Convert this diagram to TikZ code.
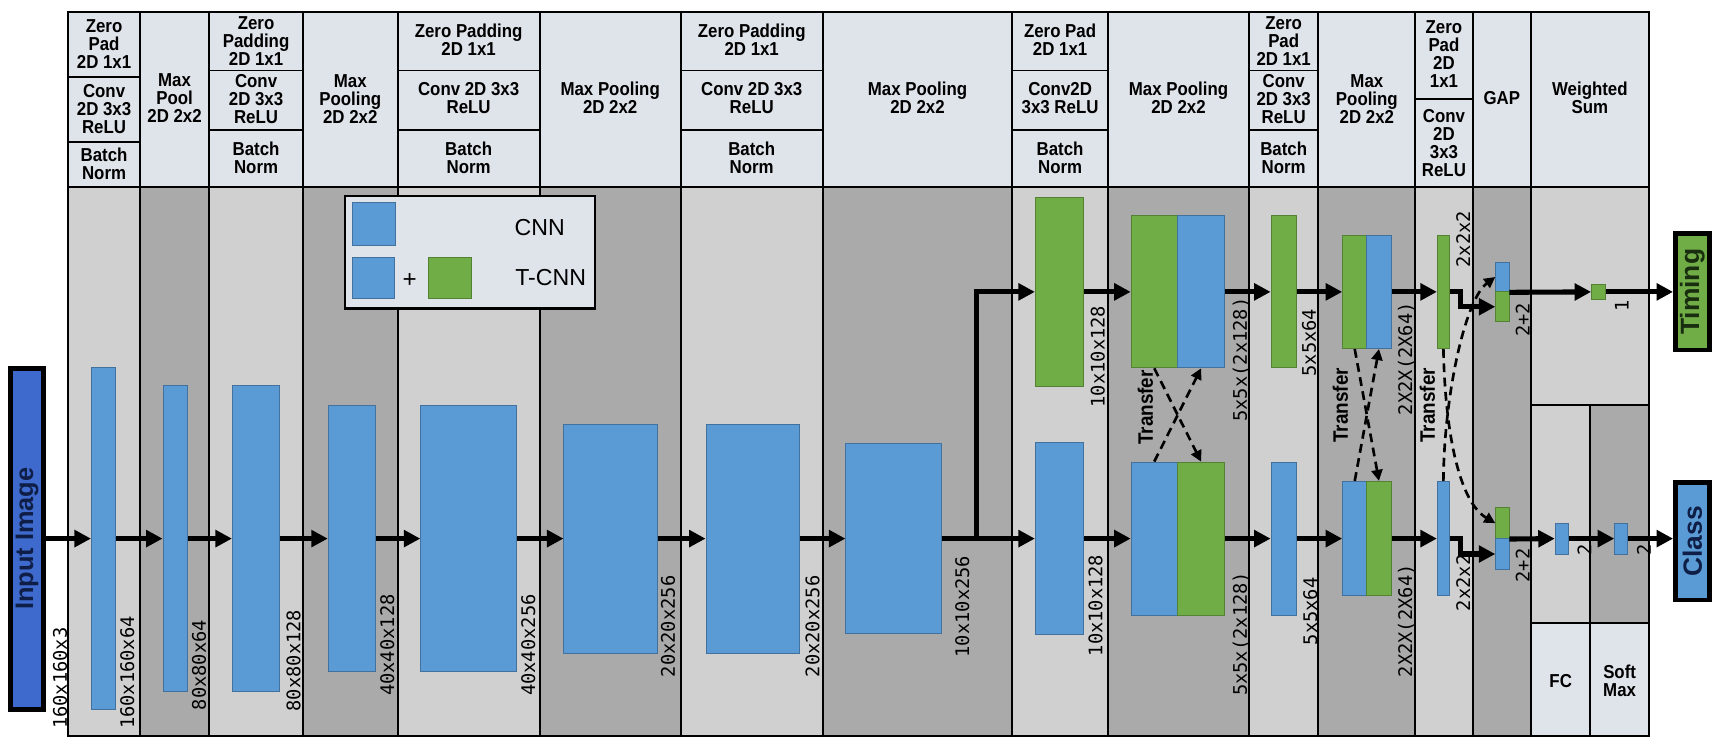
\documentclass[tikz,border=0pt]{standalone}
\usepackage{fontspec}
\setmainfont{Liberation Sans}
\newfontfamily\hdr[FakeStretch=0.9]{Liberation Sans}
\newfontfamily\monof{DejaVu Sans Mono}
\usetikzlibrary{arrows.meta}
\definecolor{hdrbg}{RGB}{223,227,234}
\definecolor{lightbg}{RGB}{208,208,208}
\definecolor{darkbg}{RGB}{170,170,170}
\definecolor{cnnblue}{RGB}{91,155,213}
\definecolor{tgreen}{RGB}{112,173,71}
\definecolor{blueedge}{RGB}{65,113,156}
\definecolor{greenedge}{RGB}{84,130,53}
\definecolor{inblue}{RGB}{62,106,205}
\definecolor{navy}{RGB}{15,30,70}
\definecolor{dkgreen}{RGB}{25,45,15}
\begin{document}
\begin{tikzpicture}[x=1pt,y=-1pt,
  grid/.style={line width=1.8pt, line cap=rect},
  hdrtxt/.style={font=\hdr\bfseries\fontsize{17}{16.5}\selectfont, align=center, inner sep=0pt},
  blkb/.style={draw=blueedge, fill=cnnblue, line width=0.8pt, inner sep=0pt},
  blkg/.style={draw=greenedge, fill=tgreen, line width=0.8pt, inner sep=0pt},
  arr/.style={line width=4.6pt, line join=miter, -{Triangle[length=15pt,width=15pt]}},
  darr/.style={line width=2.4pt, dash pattern=on 8pt off 5pt, -{Triangle[length=10pt,width=10pt]}},
  dimlbl/.style={font=\monof\fontsize{17}{18}\selectfont, rotate=90, anchor=north west, inner sep=1pt},
  trlbl/.style={font=\hdr\bfseries\fontsize{19}{20}\selectfont, rotate=90, inner sep=0pt},
  endbox/.style={draw=black, line width=4.5pt, rotate=90, inner sep=0pt, font=\bfseries\fontsize{24}{26}\selectfont}
]
\useasboundingbox (0,0) rectangle (1568,678);
% ---------- backgrounds
\fill[hdrbg] (62,11) rectangle (1497,170);
\fill[lightbg] (62,170) rectangle (127,668);
\fill[darkbg] (127,170) rectangle (190,668);
\fill[lightbg] (190,170) rectangle (275,668);
\fill[darkbg] (275,170) rectangle (361,668);
\fill[lightbg] (361,170) rectangle (490,668);
\fill[darkbg] (490,170) rectangle (618,668);
\fill[lightbg] (618,170) rectangle (747,668);
\fill[darkbg] (747,170) rectangle (919,668);
\fill[lightbg] (919,170) rectangle (1006,668);
\fill[darkbg] (1006,170) rectangle (1134,668);
\fill[lightbg] (1134,170) rectangle (1197,668);
\fill[darkbg] (1197,170) rectangle (1285,668);
\fill[lightbg] (1285,170) rectangle (1337,668);
\fill[darkbg] (1337,170) rectangle (1390,668);
\fill[lightbg] (1390,170) rectangle (1497,566);
\fill[darkbg] (1444,368) rectangle (1497,566);
\fill[hdrbg] (1390,566) rectangle (1497,668);
% ---------- grid
\draw[grid] (62,170) -- (1497,170);
\foreach \x in {127,190,275,361,490,618,747,919,1006,1134,1197,1285,1337,1390}
  \draw[grid] (\x,11) -- (\x,668);
\draw[grid] (1390,368) -- (1497,368) (1390,566) -- (1497,566) (1444,368) -- (1444,668);
\draw[grid] (62,70) -- (127,70) (62,129) -- (127,129);
\foreach \a/\b in {190/275,361/490,618/747,919/1006,1134/1197}
  \draw[grid] (\a,64) -- (\b,64) (\a,118) -- (\b,118);
\draw[grid] (1285,90) -- (1337,90);
\draw[line width=2pt] (62,11) rectangle (1497,668);
% ---------- header texts
\node[hdrtxt] (h0a) at (94.5,40) {Zero\\Pad\\2D 1x1};
\node[hdrtxt] (h0b) at (94.5,99) {Conv\\2D 3x3\\ReLU};
\node[hdrtxt] (h0c) at (94.5,149) {Batch\\Norm};
\node[hdrtxt] (h1) at (158.5,89) {Max\\Pool\\2D 2x2};
\node[hdrtxt] (h2a) at (232.5,37) {Zero\\Padding\\2D 1x1};
\node[hdrtxt] (h2b) at (232.5,90) {Conv\\2D 3x3\\ReLU};
\node[hdrtxt] (h2c) at (232.5,143) {Batch\\Norm};
\node[hdrtxt] (h3) at (318,90) {Max\\Pooling\\2D 2x2};
\node[hdrtxt] (h4a) at (425.5,36) {Zero Padding\\2D 1x1};
\node[hdrtxt] (h4b) at (425.5,89) {Conv 2D 3x3\\ReLU};
\node[hdrtxt] (h4c) at (425.5,143) {Batch\\Norm};
\node[hdrtxt] (h5) at (554,89) {Max Pooling\\2D 2x2};
\node[hdrtxt] (h6a) at (682.5,36) {Zero Padding\\2D 1x1};
\node[hdrtxt] (h6b) at (682.5,89) {Conv 2D 3x3\\ReLU};
\node[hdrtxt] (h6c) at (682.5,143) {Batch\\Norm};
\node[hdrtxt] (h7) at (833,89) {Max Pooling\\2D 2x2};
\node[hdrtxt] (h8a) at (962.5,36) {Zero Pad\\2D 1x1};
\node[hdrtxt] (h8b) at (962.5,89) {Conv2D\\3x3 ReLU};
\node[hdrtxt] (h8c) at (962.5,143) {Batch\\Norm};
\node[hdrtxt] (h9) at (1070,89) {Max Pooling\\2D 2x2};
\node[hdrtxt] (h10a) at (1165.5,37) {Zero\\Pad\\2D 1x1};
\node[hdrtxt] (h10b) at (1165.5,90) {Conv\\2D 3x3\\ReLU};
\node[hdrtxt] (h10c) at (1165.5,143) {Batch\\Norm};
\node[hdrtxt] (h11) at (1241,90) {Max\\Pooling\\2D 2x2};
\node[hdrtxt] (h12a) at (1311,49) {Zero\\Pad\\2D\\1x1};
\node[hdrtxt] (h12b) at (1311,130) {Conv\\2D\\3x3\\ReLU};
\node[hdrtxt] (h13) at (1363.5,89) {GAP};
\node[hdrtxt] (h14) at (1443.5,89) {Weighted\\Sum};
\node[hdrtxt] (hfc) at (1417,618) {FC};
\node[hdrtxt] (hsm) at (1470.5,618) {Soft\\Max};
% ---------- legend
\node[draw=black, line width=2pt, fill=hdrbg, minimum width=227pt, minimum height=102pt, inner sep=0pt] (leg) at (426.5,229) {};
\node[blkb, minimum width=39pt, minimum height=39pt] (lgb1) at (339.5,203.5) {};
\node[blkb, minimum width=38pt, minimum height=37pt] (lgb2) at (339,252.5) {};
\node[font=\fontsize{22}{24}\selectfont, inner sep=0pt] (lgp) at (372,255) {+};
\node[blkg, minimum width=39pt, minimum height=37pt] (lgg) at (408.5,252.5) {};
\node[font=\fontsize{21}{24}\selectfont, inner sep=0pt] (lgt1) at (490,207) {CNN};
\node[font=\fontsize{21}{24}\selectfont, inner sep=0pt] (lgt2) at (500,252) {T-CNN};
% ---------- end boxes
\node[endbox, fill=inblue, text=navy, minimum width=309.5pt, minimum height=30.5pt, font=\bfseries\fontsize{23}{26}\selectfont] (inp) at (24.5,489) {Input Image};
\node[endbox, fill=tgreen, text=dkgreen, minimum width=105.5pt, minimum height=30.5pt] (tim) at (1536.5,265) {Timing};
\node[endbox, fill=cnnblue, text=navy, minimum width=106.5pt, minimum height=30.5pt] (cls) at (1536.5,491.5) {Class};
% ---------- blocks
\node[blkb, minimum width=22pt, minimum height=311pt] (b1) at (94,489) {};
\node[blkb, minimum width=22pt, minimum height=278pt] (b2) at (159,489) {};
\node[blkb, minimum width=43pt, minimum height=278pt] (b3) at (232.5,489) {};
\node[blkb, minimum width=43pt, minimum height=242pt] (b4) at (319.5,489) {};
\node[blkb, minimum width=87pt, minimum height=242pt] (b5) at (425.5,489) {};
\node[blkb, minimum width=85pt, minimum height=208pt] (b6) at (554.5,489) {};
\node[blkb, minimum width=85pt, minimum height=208pt] (b7) at (683.5,489) {};
\node[blkb, minimum width=87pt, minimum height=173pt] (b8) at (811.5,489) {};
\node[blkg, minimum width=44pt, minimum height=172pt] (c8t) at (962,265) {};
\node[blkb, minimum width=44pt, minimum height=174pt] (c8b) at (962,489) {};
\node[blkg, minimum width=42pt, minimum height=138pt] (c9tg) at (1048,265) {};
\node[blkb, minimum width=43pt, minimum height=138pt] (c9tb) at (1090.5,265) {};
\node[blkb, minimum width=42pt, minimum height=139pt] (c9bb) at (1048,489) {};
\node[blkg, minimum width=43pt, minimum height=139pt] (c9bg) at (1090.5,489) {};
\node[blkg, minimum width=23pt, minimum height=138pt] (c10t) at (1165.5,265) {};
\node[blkb, minimum width=23pt, minimum height=139pt] (c10b) at (1165.5,489) {};
\node[blkg, minimum width=22pt, minimum height=103pt] (c11tg) at (1230,265) {};
\node[blkb, minimum width=22pt, minimum height=103pt] (c11tb) at (1252,265) {};
\node[blkb, minimum width=22pt, minimum height=104pt] (c11bb) at (1230,489) {};
\node[blkg, minimum width=22pt, minimum height=104pt] (c11bg) at (1252,489) {};
\node[blkg, minimum width=11pt, minimum height=103pt] (c12t) at (1310.5,265) {};
\node[blkb, minimum width=11pt, minimum height=104pt] (c12b) at (1310.5,489) {};
\node[blkb, minimum width=12pt, minimum height=27pt] (gtb) at (1364,251.5) {};
\node[blkg, minimum width=12pt, minimum height=27pt] (gtg) at (1364,278.5) {};
\node[blkg, minimum width=12pt, minimum height=28pt] (gbg) at (1364,475) {};
\node[blkb, minimum width=12pt, minimum height=28pt] (gbb) at (1364,503) {};
\node[blkg, minimum width=13pt, minimum height=14pt] (sq) at (1451.5,265) {};
\node[blkb, minimum width=12pt, minimum height=28pt] (fc) at (1418,489) {};
\node[blkb, minimum width=12pt, minimum height=28pt] (sm) at (1472,489) {};
% ---------- main flow arrows
\draw[arr] (inp.south) -- (b1.west);
\draw[arr] (b1.east) -- (b2.west);
\draw[arr] (b2.east) -- (b3.west);
\draw[arr] (b3.east) -- (b4.west);
\draw[arr] (b4.east) -- (b5.west);
\draw[arr] (b5.east) -- (b6.west);
\draw[arr] (b6.east) -- (b7.west);
\draw[arr] (b7.east) -- (b8.west);
\draw[arr] (b8.east) -- (c8b.west);
\coordinate (br) at (887,489);
\draw[arr] (br) |- (c8t.west);
\draw[arr] (c8t.east) -- (c9tg.west);
\draw[arr] (c8b.east) -- (c9bb.west);
\draw[arr] (c9tb.east) -- (c10t.west);
\draw[arr] (c9bg.east) -- (c10b.west);
\draw[arr] (c10t.east) -- (c11tg.west);
\draw[arr] (c10b.east) -- (c11bb.west);
\draw[arr] (c11tb.east) -- (c12t.west);
\draw[arr] (c11bg.east) -- (c12b.west);
\coordinate (st) at (1326,0);
\draw[arr] (c12t.east) -- (c12t.east -| st) |- (gtg.west);
\draw[arr] (c12b.east) -- (c12b.east -| st) |- (gbb.west);
\draw[arr] (gtb.south east) -- (sq.west);
\draw[arr] (sq.east) -- (tim.north |- sq.east);
\draw[arr] (gbg.south east) -- (fc.west);
\draw[arr] (fc.east) -- (sm.west);
\draw[arr] (sm.east) -- (cls.north |- sm.east);
% ---------- transfer (dashed)
\draw[darr] (c9tg.south) -- (c9bg.north);
\draw[darr] (c9bb.north) -- (c9tb.south);
\draw[darr] (c11tg.south) -- (c11bg.north);
\draw[darr] (c11bb.north) -- (c11tb.south);
\draw[darr] (c12t.south) .. controls (1312,390) and (1324,455) .. (gbg.west);
\draw[darr] (c12b.north) .. controls (1311,360) and (1330,272) .. (gtb.west);
\node[trlbl] (tr1) at (1040,370) {Transfer};
\node[trlbl] (tr2) at (1217,368) {Transfer};
\node[trlbl] (tr3) at (1296,368) {Transfer};
% ---------- dimension labels
\node[dimlbl] (l1) at (47,663) {160x160x3};
\node[dimlbl] (l2) at (108,663) {160x160x64};
\node[dimlbl] (l3) at (173,646) {80x80x64};
\node[dimlbl] (l4) at (259,647) {80x80x128};
\node[dimlbl] (l5) at (344,633) {40x40x128};
\node[dimlbl] (l6) at (472,633) {40x40x256};
\node[dimlbl] (l7) at (599,616) {20x20x256};
\node[dimlbl] (l8) at (730,616) {20x20x256};
\node[dimlbl] (l9) at (866,598) {10x10x256};
\node[dimlbl] (l10) at (989,371) {10x10x128};
\node[dimlbl] (l11) at (987,597) {10x10x128};
\node[dimlbl] (l12) at (1118,384) {5x5x(2x128)};
\node[dimlbl] (l13) at (1118,633) {5x5x(2x128)};
\node[dimlbl] (l14) at (1181,343) {5x5x64};
\node[dimlbl] (l15) at (1182,587) {5x5x64};
\node[dimlbl] (l16) at (1268,378) {2X2X(2X64)};
\node[dimlbl] (l17) at (1268,616) {2X2X(2X64)};
\node[dimlbl] (l18) at (1321,244) {2x2x2};
\node[dimlbl] (l19) at (1321,556) {2x2x2};
\node[dimlbl] (l20) at (1375,307) {2+2};
\node[dimlbl] (l21) at (1375,530) {2+2};
\node[dimlbl] (l22) at (1465,284) {1};
\node[dimlbl] (l23) at (1431,506) {2};
\node[dimlbl] (l24) at (1485,506) {2};
\end{tikzpicture}
\end{document}
